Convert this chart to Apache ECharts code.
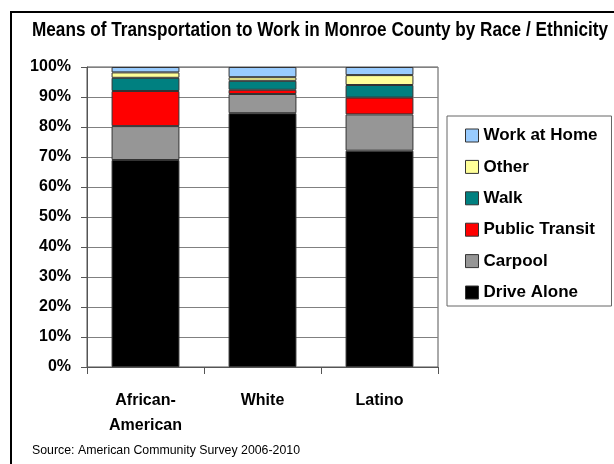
<!DOCTYPE html>
<html>
<head>
<meta charset="utf-8">
<script src="https://cdn.jsdelivr.net/npm/echarts@6/dist/echarts.min.js"></script>
<style>
  html, body { margin: 0; padding: 0; background: #fff; }
  #chart { width: 614px; height: 464px; }
</style>
</head>
<body>
<div id="chart"></div>
<script>
// Share of workers by means of transportation (%), per group
const categories = ['African-\nAmerican', 'White', 'Latino'];
const driveAlone    = [69.0, 84.6, 72.1];
const carpool       = [11.3, 6.4, 12.1];
const publicTransit = [11.7, 1.4, 5.6];
const walk          = [4.4, 3.0, 4.2];
const other         = [1.8, 1.2, 3.3];
const workAtHome    = [1.8, 3.4, 2.7];
const yTicks = [0, 10, 20, 30, 40, 50, 60, 70, 80, 90, 100];

const titleText = 'Means of Transportation to Work in Monroe County by Race / Ethnicity';
const sourceText = 'Source: American Community Survey 2006-2010';

const seriesDefs = [
  { name: 'Drive Alone',    data: driveAlone,    color: '#000000' },
  { name: 'Carpool',        data: carpool,       color: '#969696' },
  { name: 'Public Transit', data: publicTransit, color: '#FF0000' },
  { name: 'Walk',           data: walk,          color: '#008080' },
  { name: 'Other',          data: other,         color: '#FFFF99' },
  { name: 'Work at Home',   data: workAtHome,    color: '#99CCFF' }
];

const sans = '"Liberation Sans", Arial, sans-serif';

// Condensed look: squeeze a text run horizontally to a target width
const measureCtx = document.createElement('canvas').getContext('2d');
function squeeze(font, text, targetWidth) {
  measureCtx.font = font;
  return targetWidth / measureCtx.measureText(text).width;
}
const titleFont = 'bold 20px ' + sans;
const sourceFont = '13px ' + sans;
const titleScale = squeeze(titleFont, titleText, 576);
const sourceScale = squeeze(sourceFont, sourceText, 268);

const chart = echarts.init(document.getElementById('chart'), null, { renderer: 'canvas' });

chart.setOption({
  animation: false,
  backgroundColor: '#ffffff',
  graphic: [
    {
      type: 'polyline',
      shape: { points: [[11, 470], [11, 12], [620, 12]] },
      style: { stroke: '#000', lineWidth: 2, fill: null }
    },
    {
      type: 'text',
      x: 32, y: 30, scaleX: titleScale,
      style: {
        text: titleText, font: titleFont, fill: '#000',
        textAlign: 'left', textVerticalAlign: 'middle'
      }
    },
    {
      type: 'text',
      x: 32, y: 450, scaleX: sourceScale,
      style: {
        text: sourceText, font: sourceFont, fill: '#000',
        textAlign: 'left', textVerticalAlign: 'middle'
      }
    }
  ],
  grid: {
    left: 87, right: 176, top: 67, height: 300,
    show: true, borderColor: '#555', borderWidth: 1
  },
  legend: {
    orient: 'vertical',
    left: 447, top: 116,
    padding: [11, 14, 5, 18],
    itemGap: 14.4,
    itemWidth: 13, itemHeight: 13,
    borderColor: '#666', borderWidth: 1,
    icon: 'rect',
    data: seriesDefs.map(s => s.name).reverse(),
    textStyle: { fontSize: 17, fontWeight: 'bold', fontFamily: sans, color: '#000' },
    itemStyle: { borderColor: '#333', borderWidth: 1 }
  },
  xAxis: {
    type: 'category',
    data: categories,
    axisLine: { lineStyle: { color: '#555', width: 1 } },
    axisTick: { show: true, length: 7, lineStyle: { color: '#555' } },
    axisLabel: {
      fontSize: 16, fontWeight: 'bold', fontFamily: sans, color: '#000',
      margin: 21, lineHeight: 25
    }
  },
  yAxis: {
    type: 'value',
    min: 0, max: 100, interval: 10,
    axisLine: { show: true, lineStyle: { color: '#555', width: 1 } },
    axisTick: { show: true, length: 6, lineStyle: { color: '#555' } },
    splitLine: { lineStyle: { color: '#808080', width: 1 } },
    axisLabel: {
      fontSize: 16, fontWeight: 'bold', fontFamily: sans, color: '#000',
      margin: 16,
      formatter: v => (yTicks.includes(v) ? v + '%' : '')
    }
  },
  series: seriesDefs.map(s => ({
    name: s.name,
    type: 'bar',
    stack: 'total',
    barWidth: '58%',
    data: s.data,
    itemStyle: { color: s.color, borderColor: '#333', borderWidth: 1 }
  }))
});
</script>
</body>
</html>
